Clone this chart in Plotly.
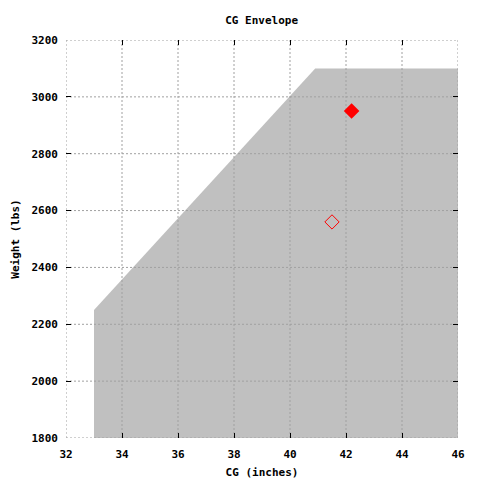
import plotly.graph_objects as go

# Envelope polygon (CG inches, weight lbs)
env_cg = [33.0, 33.0, 40.9, 46.0, 46.0]
env_wt = [1800, 2250, 3100, 3100, 1800]

# Loading points
pt_filled_cg = [42.2]
pt_filled_wt = [2950]
pt_open_cg = [41.5]
pt_open_wt = [2560]

x_ticks = [32, 34, 36, 38, 40, 42, 44, 46]
y_ticks = [1800, 2000, 2200, 2400, 2600, 2800, 3000, 3200]
x_range = [32, 46]
y_range = [1800, 3200]

FONT = dict(family="DejaVu Sans Mono", size=11, color="black", weight="bold")

fig = go.Figure()
fig.add_trace(go.Scatter(x=env_cg, y=env_wt, fill="toself", fillcolor="#c0c0c0",
                         line=dict(width=0), mode="lines", hoverinfo="skip"))

# grid lines drawn above the fill
gx, gy = [], []
for t in x_ticks:
    gx += [t, t, None]
    gy += [y_range[0], y_range[1], None]
for t in y_ticks:
    gx += [x_range[0], x_range[1], None]
    gy += [t, t, None]
fig.add_trace(go.Scatter(x=gx, y=gy, mode="lines",
                         line=dict(color="#a0a0a0", width=1, dash="2px,2px"),
                         hoverinfo="skip", cliponaxis=False))

fig.add_trace(go.Scatter(x=pt_filled_cg, y=pt_filled_wt, mode="markers",
                         marker=dict(symbol="diamond", size=12, color="red")))
fig.add_trace(go.Scatter(x=pt_open_cg, y=pt_open_wt, mode="markers",
                         marker=dict(symbol="diamond-open", size=11, color="red",
                                     line=dict(width=1, color="red"))))

axis_common = dict(showgrid=False, zeroline=False, showline=False, automargin=False,
                   ticks="inside", ticklen=5, tickcolor="black", tickwidth=1,
                   mirror="ticks", tickfont=FONT)
fig.update_xaxes(range=x_range, tickvals=x_ticks, ticklabelstandoff=8,
                 title=dict(text="CG (inches)", font=FONT, standoff=8),
                 **axis_common)
fig.update_yaxes(range=y_range, tickvals=y_ticks, ticklabelstandoff=7,
                 title=dict(text="Weight (lbs)", font=FONT, standoff=9),
                 **axis_common)

fig.update_layout(
    width=480, height=480,
    margin=dict(l=66, r=22, t=40, b=42),
    paper_bgcolor="white", plot_bgcolor="white",
    showlegend=False,
    title=dict(text="CG Envelope", font=FONT, x=0.545, xanchor="center", y=0.958, yanchor="middle"),
)
fig.write_html("out.html", config={"displayModeBar": False},
               post_script="document.body.style.margin='0';")
